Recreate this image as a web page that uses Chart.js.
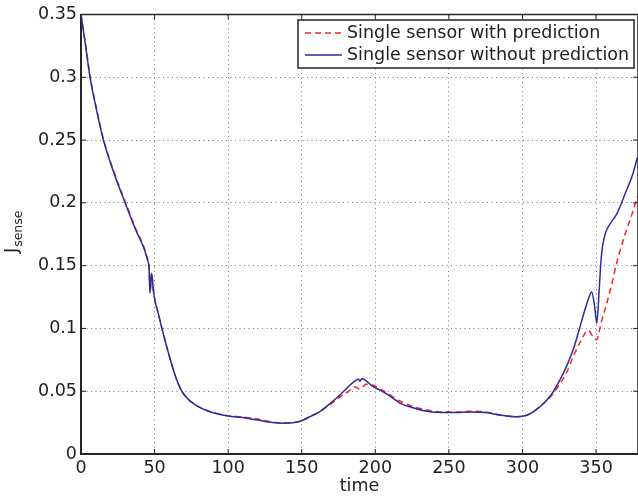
<!DOCTYPE html>
<html lang="en">
<head>
  <meta charset="UTF-8" />
  <title>J sense over time</title>
  <script src="https://cdn.jsdelivr.net/npm/chart.js"></script>
  <style>
    html, body { margin: 0; padding: 0; background: #fff; }
    #wrap { width: 638px; height: 499px; }
  </style>
</head>
<body>
  <div id="wrap"><canvas id="chart" width="638" height="499"></canvas></div>

  <script>
    // sample times shared by both runs
    const times = [0, 3, 6, 10, 15, 22, 30, 37, 43, 45.5, 46.2, 46.9, 48, 49.1, 50.3, 52.5, 55, 60, 64, 68,
      72, 76, 80, 85, 92, 100, 110, 120, 130, 138, 145, 150, 156, 162, 170, 176, 182, 186, 188.5, 189.5,
      191, 194, 198, 203, 210, 217, 225, 235, 245, 255, 265, 275, 285, 295, 300, 305, 310, 315, 320, 325,
      330, 335, 340, 343, 345, 347, 349, 350.5, 352, 353, 354, 355.5, 357, 360, 364, 370, 375, 378];

    const withPrediction = [0.350, 0.327, 0.302, 0.278, 0.252, 0.226, 0.201, 0.180, 0.164, 0.154, 0.150, 0.129, 0.144, 0.131, 0.122, 0.112, 0.100, 0.078, 0.0625, 0.051,
      0.0445, 0.0405, 0.0375, 0.0348, 0.0322, 0.0305, 0.0295, 0.0278, 0.0255, 0.0246, 0.025, 0.0265, 0.030, 0.0336, 0.040, 0.0455, 0.050, 0.0535, 0.052, 0.0517,
      0.053, 0.0555, 0.055, 0.052, 0.047, 0.042, 0.038, 0.035, 0.0335, 0.0335, 0.034, 0.0335, 0.031, 0.0297, 0.030, 0.032, 0.036, 0.041, 0.047, 0.055,
      0.065, 0.079, 0.091, 0.097, 0.0985, 0.095, 0.092, 0.091, 0.097, 0.102, 0.107, 0.113, 0.119, 0.132, 0.152, 0.176, 0.193, 0.205];

    const withoutPrediction = [0.350, 0.326, 0.301, 0.277, 0.251, 0.225, 0.200, 0.179, 0.163, 0.153, 0.149, 0.128, 0.144, 0.131, 0.122, 0.112, 0.100, 0.078, 0.0625, 0.051,
      0.0445, 0.0405, 0.0375, 0.0348, 0.0322, 0.0302, 0.029, 0.027, 0.025, 0.0244, 0.025, 0.0265, 0.030, 0.0336, 0.041, 0.047, 0.054, 0.058, 0.0598, 0.058,
      0.0602, 0.058, 0.054, 0.051, 0.046, 0.0403, 0.037, 0.034, 0.033, 0.033, 0.0335, 0.033, 0.031, 0.0297, 0.030, 0.032, 0.036, 0.041, 0.048, 0.058,
      0.070, 0.085, 0.105, 0.117, 0.124, 0.129, 0.118, 0.104, 0.128, 0.148, 0.162, 0.172, 0.178, 0.184, 0.191, 0.208, 0.223, 0.236];

    const legendLabels = ['Single sensor with prediction', 'Single sensor without prediction'];
    const xTitle = 'time';

    const RED = '#ff2424';
    const BLUE = '#2b2ba0';
    const AXIS = '#262626';
    const FONT = 'DejaVu Sans';

    function toPoints(ys) {
      return times.map((t, i) => ({ x: t, y: ys[i] }));
    }

    // inner ticks, box, legend and the subscript y label
    const decorations = {
      id: 'decorations',
      afterDraw(chart) {
        const { ctx, chartArea: a, scales } = chart;
        ctx.save();
        ctx.strokeStyle = AXIS;
        ctx.lineWidth = 1.5;

        // top and right box lines
        ctx.beginPath();
        ctx.moveTo(a.left, a.top);
        ctx.lineTo(a.right, a.top);
        ctx.lineTo(a.right, a.bottom);
        ctx.stroke();

        // ticks pointing inwards
        ctx.lineWidth = 1;
        ctx.beginPath();
        scales.x.ticks.forEach(t => {
          const px = scales.x.getPixelForValue(t.value);
          ctx.moveTo(px, a.bottom); ctx.lineTo(px, a.bottom - 5);
          ctx.moveTo(px, a.top); ctx.lineTo(px, a.top + 5);
        });
        scales.y.ticks.forEach(t => {
          const py = scales.y.getPixelForValue(t.value);
          ctx.moveTo(a.left, py); ctx.lineTo(a.left + 5, py);
          ctx.moveTo(a.right, py); ctx.lineTo(a.right - 5, py);
        });
        ctx.stroke();

        // legend
        const lx = 298, ly = 20, lw = 336, lh = 48;
        ctx.fillStyle = '#fff';
        ctx.fillRect(lx, ly, lw, lh);
        ctx.lineWidth = 1.5;
        ctx.strokeStyle = AXIS;
        ctx.strokeRect(lx, ly, lw, lh);

        const rows = [
          { label: legendLabels[0], color: RED, dash: [6, 4], y: 33 },
          { label: legendLabels[1], color: BLUE, dash: [], y: 55 }
        ];
        ctx.font = '17.5px "' + FONT + '"';
        ctx.textBaseline = 'middle';
        ctx.textAlign = 'left';
        rows.forEach(r => {
          ctx.strokeStyle = r.color;
          ctx.lineWidth = 1.5;
          ctx.setLineDash(r.dash);
          ctx.beginPath();
          ctx.moveTo(305, r.y);
          ctx.lineTo(342, r.y);
          ctx.stroke();
          ctx.setLineDash([]);
          ctx.fillStyle = '#222';
          ctx.fillText(r.label, 347, r.y);
        });

        // y axis title: J with subscript "sense"
        ctx.translate(17, 253);
        ctx.rotate(-Math.PI / 2);
        ctx.textBaseline = 'alphabetic';
        ctx.font = '17.5px "' + FONT + '"';
        ctx.fillText('J', 0, 0);
        const jw = ctx.measureText('J').width;
        ctx.font = '12.5px "' + FONT + '"';
        ctx.fillText('sense', jw + 1, 5);
        ctx.restore();
      }
    };

    new Chart(document.getElementById('chart'), {
      type: 'line',
      data: {
        datasets: [
          {
            label: legendLabels[0],
            data: toPoints(withPrediction),
            borderColor: RED,
            borderWidth: 1.5,
            borderDash: [6, 4],
            pointRadius: 0,
            cubicInterpolationMode: 'monotone',
            order: 1
          },
          {
            label: legendLabels[1],
            data: toPoints(withoutPrediction),
            borderColor: BLUE,
            borderWidth: 1.5,
            pointRadius: 0,
            cubicInterpolationMode: 'monotone',
            order: 0
          }
        ]
      },
      options: {
        responsive: false,
        animation: false,
        events: [],
        layout: { padding: { top: 14, right: 0, left: 0, bottom: 0 } },
        plugins: {
          legend: { display: false },
          tooltip: { enabled: false }
        },
        scales: {
          x: {
            type: 'linear',
            min: 0,
            max: 378.5,
            afterFit(scale) { scale.height = 45; },
            ticks: {
              stepSize: 50,
              includeBounds: false,
              padding: 4,
              color: '#222',
              font: { family: FONT, size: 17.5 }
            },
            grid: { color: '#777', lineWidth: 1, drawTicks: false },
            border: { color: AXIS, width: 2, dash: [1, 3.5] },
            title: {
              display: true,
              text: xTitle,
              color: '#222',
              font: { family: FONT, size: 17.5 },
              padding: { top: 0, bottom: 2 }
            }
          },
          y: {
            min: 0,
            max: 0.35,
            afterFit(scale) { scale.width = 81; },
            ticks: {
              stepSize: 0.05,
              padding: 4,
              color: '#222',
              font: { family: FONT, size: 17.5 },
              callback: v => String(Number(v.toFixed(2)))
            },
            grid: { color: '#777', lineWidth: 1, drawTicks: false },
            border: { color: AXIS, width: 2, dash: [1, 3.5] }
          }
        }
      },
      plugins: [decorations]
    });
  </script>
</body>
</html>
